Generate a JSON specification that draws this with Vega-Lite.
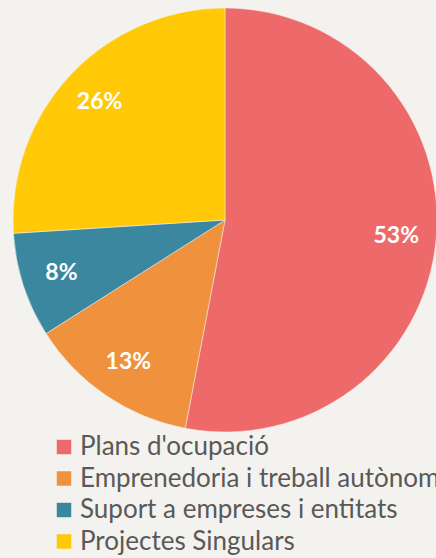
{
  "$schema": "https://vega.github.io/schema/vega-lite/v6.json",
  "width": 436,
  "height": 440,
  "padding": {"left": 7, "top": 0, "right": 0, "bottom": 118},
  "autosize": {"type": "none"},
  "background": "#f4f2ee",
  "data": {"values": [
    {"cat": "Plans d'ocupació", "value": 53, "label": "53%", "order": 1},
    {"cat": "Emprenedoria i treball autònom", "value": 13, "label": "13%", "order": 2},
    {"cat": "Suport a empreses i entitats", "value": 8, "label": "8%", "order": 3},
    {"cat": "Projectes Singulars", "value": 26, "label": "26%", "order": 4}
  ]},
  "encoding": {
    "theta": {"field": "value", "type": "quantitative", "stack": true},
    "order": {"field": "order", "type": "quantitative"}
  },
  "layer": [
    {
      "mark": {"type": "arc", "radius": 212, "stroke": "#f4f2ee", "strokeWidth": 0.5},
      "encoding": {
        "color": {
          "field": "cat", "type": "nominal",
          "scale": {"domain": ["Plans d'ocupació", "Emprenedoria i treball autònom", "Suport a empreses i entitats", "Projectes Singulars"],
                    "range": ["#ee6a6a", "#f0913e", "#3b87a0", "#ffc907"]},
          "legend": {
            "orient": "none", "legendX": 44, "legendY": 434, "title": null,
            "symbolType": "square", "symbolSize": 210, "symbolStrokeWidth": 0,
            "labelFont": "Lato", "labelFontSize": 26, "labelColor": "#595959",
            "labelOffset": 3, "rowPadding": 5.5, "padding": 0, "labelLimit": 0
          }
        }
      }
    },
    {
      "mark": {"type": "text", "radius": 172, "font": "Lato", "fontWeight": "bold", "fontSize": 23, "color": "white"},
      "encoding": {"text": {"field": "label", "type": "nominal"}}
    }
  ]
}
